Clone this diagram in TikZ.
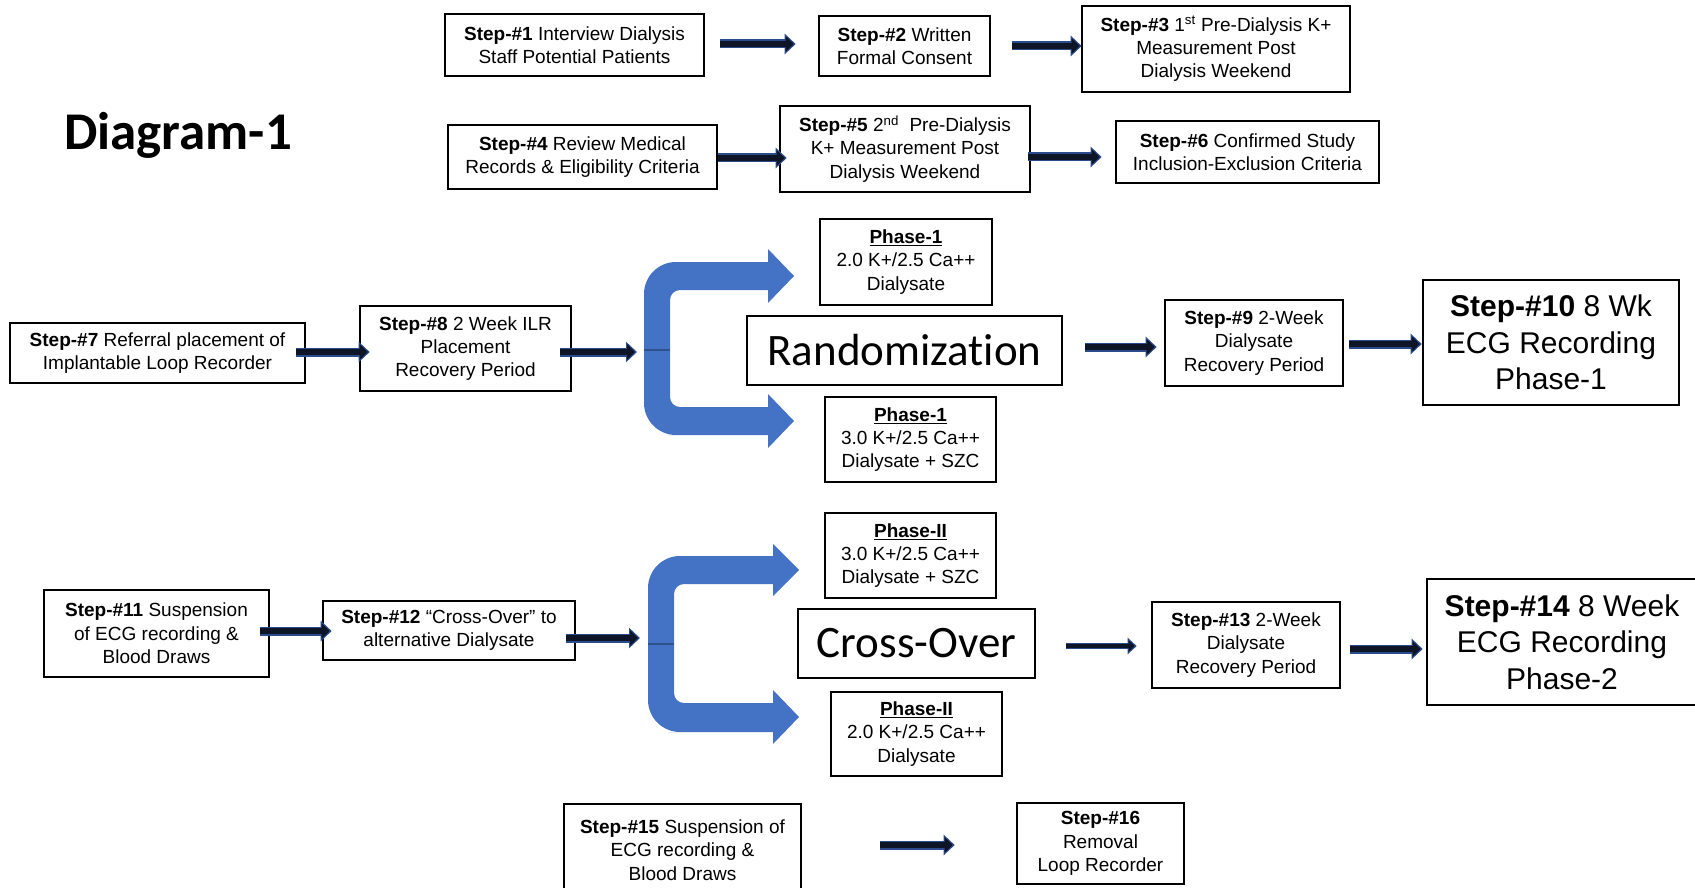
\documentclass[tikz,border=0pt]{standalone}
\usepackage{fontspec}
\setmainfont{Liberation Sans}
\newfontfamily\calibri[Ligatures={NoCommon}]{Carlito}
\usetikzlibrary{arrows.meta}
\definecolor{cblue}{HTML}{4472C4}
\definecolor{cbluedark}{HTML}{2F528F}
\definecolor{arrowdark}{HTML}{0E1526}
\definecolor{arrowedge}{HTML}{2B4C8C}
\tikzset{
  stepbox/.style={draw, line width=2.6pt, inner sep=0pt, align=center,
    font=\fontsize{19}{23.3}\selectfont},
  wh/.style 2 args={minimum width=#1, minimum height=#2},
  bigbox/.style={draw, line width=2.6pt, inner sep=0pt, align=center,
    font=\fontsize{30}{36.5}\selectfont},
  calbox/.style={draw, line width=2.6pt, inner sep=0pt, align=center,
    font=\calibri\fontsize{45}{50}\selectfont},
  flow/.style={line width=9pt, arrowedge, -{Triangle[length=11pt,width=20pt]},
    postaction={draw=arrowdark, line width=6pt, -{Triangle[length=8pt,width=15pt]}, shorten >=2pt}},
  thinflow/.style={line width=6.5pt, arrowedge, -{Triangle[length=9pt,width=16pt]},
    postaction={draw=arrowdark, line width=4pt, -{Triangle[length=6pt,width=11pt]}, shorten >=2pt}},
  cshape/.style={fill=cblue},
  midline/.style={draw=cbluedark, line width=1.2pt}
}
\begin{document}
\begin{tikzpicture}[x=1pt,y=-1pt]
\useasboundingbox (0,0) rectangle (1695,888);
\clip (0,0) rectangle (1695,888);

% title
\node[font=\calibri\bfseries\fontsize{53}{60}\selectfont] (title) at (178,135) {Diagram-1};

% row 1
\node[stepbox, wh={259pt}{62pt}] (s1) at (574.5,45) {\textbf{Step-\#1} Interview Dialysis\\Staff Potential Patients};
\node[stepbox, wh={171pt}{60pt}] (s2) at (904.5,46) {\textbf{Step-\#2} Written\\Formal Consent};
\node[stepbox, wh={268pt}{86pt}] (s3) at (1216,49) {\textbf{Step-\#3} 1\textsuperscript{st} Pre-Dialysis K+\\Measurement Post\\Dialysis Weekend};

% row 2
\node[stepbox, wh={269pt}{64pt}] (s4) at (582.5,157) {\textbf{Step-\#4} Review Medical\\Records \& Eligibility Criteria};
\node[stepbox, wh={250pt}{86pt}] (s5) at (905,149) {\textbf{Step-\#5} 2\textsuperscript{nd}~ Pre-Dialysis\\K+ Measurement Post\\Dialysis Weekend};
\node[stepbox, wh={263pt}{62pt}] (s6) at (1247.5,152) {\textbf{Step-\#6} Confirmed Study\\Inclusion-Exclusion Criteria};

% row 3
\node[stepbox, wh={295pt}{60pt}] (s7) at (157.5,353) {\textbf{Step-\#7} Referral placement of\\Implantable Loop Recorder};
\node[stepbox, wh={211pt}{85pt}] (s8) at (465.5,348.5) {\textbf{Step-\#8} 2 Week ILR\\Placement\\Recovery Period};
\node[stepbox, wh={172pt}{86pt}] (p1a) at (906,262) {\textbf{\underline{Phase-1}}\\2.0 K+/2.5 Ca++\\Dialysate};
\node[calbox, wh={315pt}{69pt}] (rand) at (904.5,350.5) {Randomization};
\node[stepbox, wh={171pt}{85pt}] (p1b) at (910.5,439.5) {\textbf{\underline{Phase-1}}\\3.0 K+/2.5 Ca++\\Dialysate + SZC};
\node[stepbox, wh={178pt}{86pt}] (s9) at (1254,343) {\textbf{Step-\#9} 2-Week\\Dialysate\\Recovery Period};
\node[bigbox, wh={256pt}{125pt}] (s10) at (1551,342.5) {\textbf{Step-\#10} 8 Wk\\ECG Recording\\Phase-1};

% blue split arrow 1
\coordinate (c1in) at (637,352);
\fill[cshape] (768,262) [rounded corners=32pt]-- (644,262) -- (644,435) -- (700,435) [sharp corners]-- (768,435)
  -- (768,448) -- (794,421) -- (768,394) -- (768,407)
  [rounded corners=10pt]-- (670,407) -- (670,290) -- (700,290) [sharp corners]-- (768,290)
  -- (768,303) -- (794,276) -- (768,249) -- cycle;
\draw[midline] (644,350) -- (670,350);

% row 4
\node[stepbox, wh={225pt}{87pt}] (s11) at (156.5,633.5) {\textbf{Step-\#11} Suspension\\of ECG recording \&\\Blood Draws};
\node[stepbox, wh={252pt}{59pt}] (s12) at (449,630.5) {\textbf{Step-\#12} “Cross-Over” to\\alternative Dialysate};
\node[stepbox, wh={171pt}{85pt}] (p2a) at (910.5,555.5) {\textbf{\underline{Phase-II}}\\3.0 K+/2.5 Ca++\\Dialysate + SZC};
\node[calbox, wh={237pt}{69pt}] (co) at (916.5,643.5) {Cross-Over};
\node[stepbox, wh={171pt}{84pt}] (p2b) at (916.5,734) {\textbf{\underline{Phase-II}}\\2.0 K+/2.5 Ca++\\Dialysate};
\node[stepbox, wh={188pt}{86pt}] (s13) at (1246,645) {\textbf{Step-\#13} 2-Week\\Dialysate\\Recovery Period};
\node[bigbox, wh={270pt}{126pt}] (s14) at (1562,642) {\textbf{Step-\#14} 8 Week\\ECG Recording\\Phase-2};

% blue split arrow 2
\coordinate (c2in) at (640,638);
\fill[cshape] (773,556) [rounded corners=32pt]-- (648,556) -- (648,732) -- (700,732) [sharp corners]-- (773,732)
  -- (773,744) -- (799,717) -- (773,690) -- (773,703)
  [rounded corners=10pt]-- (674,703) -- (674,584) -- (700,584) [sharp corners]-- (773,584)
  -- (773,596) -- (799,570) -- (773,544) -- cycle;
\draw[midline] (648,644) -- (674,644);

% row 5
\node[stepbox, wh={237pt}{92pt}] (s15) at (682.5,850) {\textbf{Step-\#15} Suspension of\\ECG recording \&\\Blood Draws};
\node[stepbox, wh={167pt}{81pt}] (s16) at (1100.5,843.5) {\textbf{Step-\#16}\\Removal\\Loop Recorder};

% connectors
\draw[flow] ([xshift=15pt]s1.east |- 0,44) -- ([xshift=-22pt]s2.west |- 0,44);
\draw[flow] ([xshift=21pt]s2.east |- 0,46) -- ([xshift=1pt]s3.west |- 0,46);
\draw[flow] (s4.east |- 0,158) -- ([xshift=8pt]s5.west |- 0,158);
\draw[flow] ([xshift=-3pt]s5.east |- 0,157) -- ([xshift=-13pt]s6.west |- 0,157);
\draw[flow] ([xshift=-10pt]s7.east |- 0,352) -- ([xshift=11pt]s8.west |- 0,352);
\draw[flow] ([xshift=-12pt]s8.east |- 0,352) -- (c1in);
\draw[flow] ([xshift=22pt]rand.east |- 0,347) -- ([xshift=-7pt]s9.west |- 0,347);
\draw[flow] ([xshift=5pt]s9.east |- 0,344) -- (s10.west |- 0,344);
\draw[flow] ([xshift=-10pt]s11.east |- 0,631) -- ([xshift=10pt]s12.west |- 0,631);
\draw[flow] ([xshift=-10pt]s12.east |- 0,638) -- (c2in);
\draw[thinflow] ([xshift=30pt]co.east |- 0,646) -- ([xshift=-14pt]s13.west |- 0,646);
\draw[flow] ([xshift=9pt]s13.east |- 0,649) -- ([xshift=-3pt]s14.west |- 0,649);
\draw[flow] ([xshift=78pt]s15.east |- 0,845) -- ([xshift=-61pt]s16.west |- 0,845);
\end{tikzpicture}
\end{document}
